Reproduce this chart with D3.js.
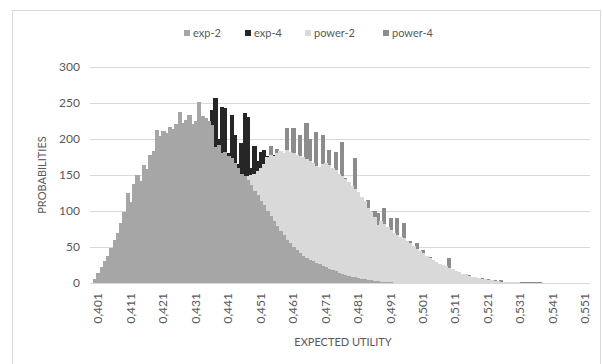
<html>
<head>
<meta charset="utf-8">
<script src="https://cdn.jsdelivr.net/npm/d3@7"></script>
<style>
  body { margin: 0; background: #fff; }
  text { font-family: Lato, "Liberation Sans", sans-serif; fill: #595959; }
</style>
</head>
<body>
<div id="chartContainer"></div>
<script type="text/javascript">
    // categories: expected utility bins (0,399 ... 0,552)
    var categories = [
      "0,399","0,400","0,401","0,402","0,403","0,404","0,405","0,406","0,407","0,408",
      "0,409","0,410","0,411","0,412","0,413","0,414","0,415","0,416","0,417","0,418",
      "0,419","0,420","0,421","0,422","0,423","0,424","0,425","0,426","0,427","0,428",
      "0,429","0,430","0,431","0,432","0,433","0,434","0,435","0,436","0,437","0,438",
      "0,439","0,440","0,441","0,442","0,443","0,444","0,445","0,446","0,447","0,448",
      "0,449","0,450","0,451","0,452","0,453","0,454","0,455","0,456","0,457","0,458",
      "0,459","0,460","0,461","0,462","0,463","0,464","0,465","0,466","0,467","0,468",
      "0,469","0,470","0,471","0,472","0,473","0,474","0,475","0,476","0,477","0,478",
      "0,479","0,480","0,481","0,482","0,483","0,484","0,485","0,486","0,487","0,488",
      "0,489","0,490","0,491","0,492","0,493","0,494","0,495","0,496","0,497","0,498",
      "0,499","0,500","0,501","0,502","0,503","0,504","0,505","0,506","0,507","0,508",
      "0,509","0,510","0,511","0,512","0,513","0,514","0,515","0,516","0,517","0,518",
      "0,519","0,520","0,521","0,522","0,523","0,524","0,525","0,526","0,527","0,528",
      "0,529","0,530","0,531","0,532","0,533","0,534","0,535","0,536","0,537","0,538",
      "0,539","0,540","0,541","0,542","0,543","0,544","0,545","0,546","0,547","0,548",
      "0,549","0,550","0,551","0,552"
    ];

    var tickLabels = ["0,401","0,411","0,421","0,431","0,441","0,451","0,461","0,471",
                      "0,481","0,491","0,501","0,511","0,521","0,531","0,541","0,551"];
    var yTicks = [0, 50, 100, 150, 200, 250, 300];

    var exp2 = [
      0, 6, 14, 22, 30, 38, 48, 60, 70, 84,
      98, 125, 112, 138, 150, 142, 164, 158, 178, 183,
      212, 204, 211, 208, 217, 214, 221, 237, 222, 226,
      233, 221, 225, 252, 232, 229, 225, 220, 189, 192,
      180, 182, 176, 174, 166, 160, 152, 148, 143, 136,
      128, 122, 114, 108, 100, 93, 86, 79, 72, 66,
      60, 55, 50, 46, 42, 38, 35, 32, 30, 28,
      26, 24, 22, 20, 18, 16, 14, 13, 11, 10,
      9, 8, 7, 6, 5, 4, 4, 3, 3, 2,
      2, 1, 1, 0, 0, 0, 0, 0, 0, 0,
      0, 0, 0, 0, 0, 0, 0, 0, 0, 0,
      0, 0, 0, 0, 0, 0, 0, 0, 0, 0,
      0, 0, 0, 0, 0, 0, 0, 0, 0, 0,
      0, 0, 0, 0, 0, 0, 0, 0, 0, 0,
      0, 0, 0, 0, 0, 0, 0, 0, 0, 0,
      0, 0, 0, 0
    ];

    var exp4 = [
      0, 2, 6, 10, 15, 20, 26, 33, 40, 48,
      56, 66, 75, 85, 95, 105, 115, 126, 136, 146,
      156, 165, 174, 182, 190, 197, 203, 208, 213, 217,
      220, 218, 221, 224, 226, 227, 224, 240, 257, 200,
      245, 243, 180, 233, 205, 165, 195, 236, 230, 160,
      190, 170, 182, 185, 176, 180, 178, 174, 168, 160,
      152, 145, 138, 130, 122, 115, 108, 100, 93, 86,
      80, 74, 68, 62, 57, 52, 47, 43, 39, 35,
      32, 29, 26, 23, 21, 19, 17, 15, 13, 11,
      10, 9, 8, 7, 6, 5, 4, 4, 3, 3,
      2, 2, 2, 1, 1, 1, 1, 0, 0, 0,
      0, 0, 0, 0, 0, 0, 0, 0, 0, 0,
      0, 0, 0, 0, 0, 0, 0, 0, 0, 0,
      0, 0, 0, 0, 0, 0, 0, 0, 0, 0,
      0, 0, 0, 0, 0, 0, 0, 0, 0, 0,
      0, 0, 0, 0
    ];

    var power2 = [
      0, 0, 0, 0, 0, 0, 0, 0, 0, 0,
      0, 0, 0, 0, 0, 0, 0, 0, 0, 0,
      0, 0, 1, 2, 3, 4, 6, 8, 10, 13,
      16, 20, 25, 30, 36, 43, 50, 58, 66, 75,
      84, 93, 102, 112, 120, 128, 135, 142, 148, 150,
      152, 155, 160, 165, 175, 178, 176, 180, 183, 181,
      185, 182, 180, 178, 176, 175, 172, 170, 166, 163,
      161, 165, 166, 164, 160, 157, 152, 148, 145, 140,
      135, 130, 126, 120, 114, 104, 98, 92, 80, 86,
      82, 78, 74, 70, 67, 64, 62, 58, 55, 51,
      47, 44, 41, 38, 35, 32, 29, 27, 25, 23,
      21, 19, 17, 15, 13, 12, 10, 9, 8, 7,
      6, 5, 4, 4, 3, 3, 2, 2, 2, 1,
      1, 1, 0, 0, 0, 0, 0, 0, 0, 0,
      0, 0, 0, 0, 0, 0, 0, 0, 0, 0,
      0, 0, 0, 0
    ];

    var power4 = [
      0, 0, 0, 0, 0, 0, 0, 0, 0, 0,
      0, 0, 0, 0, 0, 0, 0, 0, 0, 0,
      0, 0, 0, 1, 2, 3, 4, 6, 8, 10,
      13, 16, 20, 24, 29, 35, 41, 48, 55, 62,
      70, 78, 86, 95, 103, 111, 119, 127, 134, 140,
      146, 150, 155, 160, 170, 190, 172, 186, 180, 178,
      215, 176, 215, 178, 205, 170, 222, 200, 165, 210,
      160, 206, 160, 185, 158, 182, 150, 196, 146, 138,
      132, 174, 124, 118, 112, 115, 96, 100, 97, 84,
      104, 77, 90, 70, 90, 62, 83, 56, 58, 50,
      55, 43, 46, 37, 36, 31, 29, 26, 24, 22,
      35, 18, 16, 14, 12, 11, 11, 8, 7, 7,
      7, 4, 5, 3, 4, 2, 4, 1, 2, 1,
      1, 1, 1, 1, 1, 1, 1, 1, 1, 0,
      0, 0, 0, 0, 0, 0, 0, 0, 0, 0,
      0, 0, 0, 0
    ];

    // legend order and drawing order differ: exp-4 sits at the back, exp-2 in front
    var seriesNames = ["exp-2", "exp-4", "power-2", "power-4"];
    var seriesColors = {"exp-2": "#a6a6a6", "exp-4": "#262626", "power-2": "#d9d9d9", "power-4": "#8c8c8c"};
    var seriesData = {"exp-2": exp2, "exp-4": exp4, "power-2": power2, "power-4": power4};
    var drawOrder = ["exp-4", "power-4", "power-2", "exp-2"];

    var width = 603;
    var height = 364;
    var bounds = {x: 90, y: 67, width: 500, height: 216};

    var svg = d3.select("#chartContainer").append("svg")
        .attr("width", width)
        .attr("height", height);

    // chart frame
    svg.append("rect")
        .attr("x", 12.5).attr("y", 10.5)
        .attr("width", 588).attr("height", 370)
        .attr("fill", "none")
        .attr("stroke", "#d9d9d9");

    var x = d3.scaleBand()
        .domain(categories)
        .range([bounds.x, bounds.x + bounds.width])
        .padding(0);

    var y = d3.scaleLinear()
        .domain([0, 300])
        .range([bounds.y + bounds.height, bounds.y]);

    // gridlines
    svg.append("g")
        .selectAll("line")
        .data(yTicks)
        .enter()
        .append("line")
          .attr("x1", bounds.x).attr("x2", bounds.x + bounds.width)
          .attr("y1", function (d) { return Math.round(y(d)) + 0.5; })
          .attr("y2", function (d) { return Math.round(y(d)) + 0.5; })
          .attr("stroke", "#d9d9d9");

    // columns, overlapping fully
    drawOrder.forEach(function (name) {
      var vals = seriesData[name];
      svg.append("g")
        .attr("shape-rendering", "crispEdges")
        .selectAll("rect")
        .data(categories)
        .enter()
        .append("rect")
          .attr("x", function (d) { return x(d); })
          .attr("width", x.bandwidth() + 1)
          .attr("y", function (d, i) { return y(vals[i]); })
          .attr("height", function (d, i) { return y(0) - y(vals[i]); })
          .attr("fill", seriesColors[name]);
    });

    // y axis labels
    var yAxis = svg.append("g")
        .attr("transform", "translate(" + (bounds.x - 10) + ",0)")
        .call(d3.axisLeft(y).tickValues(yTicks).tickSize(0).tickPadding(0));
    yAxis.select(".domain").remove();
    yAxis.selectAll("text")
        .style("font-size", "12px")
        .style("font-family", "Lato, sans-serif")
        .attr("fill", "#595959");

    // x axis labels, vertical
    var xAxis = svg.append("g")
        .attr("transform", "translate(0," + (bounds.y + bounds.height) + ")")
        .call(d3.axisBottom(x).tickValues(tickLabels).tickSize(0));
    xAxis.select(".domain").remove();
    xAxis.selectAll("text")
        .attr("transform", "rotate(-90)")
        .attr("x", -10)
        .attr("y", 0)
        .attr("dy", "0.35em")
        .style("text-anchor", "end")
        .style("font-size", "12px")
        .style("font-family", "Lato, sans-serif")
        .attr("fill", "#595959");

    // axis titles
    svg.append("text")
        .attr("x", 343).attr("y", 346)
        .attr("text-anchor", "middle")
        .style("font-size", "11px")
        .text("EXPECTED UTILITY");

    svg.append("text")
        .attr("transform", "translate(46,175) rotate(-90)")
        .attr("text-anchor", "middle")
        .style("font-size", "11px")
        .text("PROBABILITIES");

    // legend
    var legX = [184, 245, 305, 383];
    var leg = svg.append("g").selectAll("g")
        .data(seriesNames)
        .enter()
        .append("g")
          .attr("transform", function (d, i) { return "translate(" + legX[i] + ",33)"; });
    leg.append("rect")
        .attr("x", 0).attr("y", -3)
        .attr("width", 6).attr("height", 6)
        .attr("fill", function (d) { return seriesColors[d]; });
    leg.append("text")
        .attr("x", 9).attr("y", 0)
        .attr("dy", "0.35em")
        .style("font-size", "11px")
        .text(function (d) { return d; });
</script>
</body>
</html>
